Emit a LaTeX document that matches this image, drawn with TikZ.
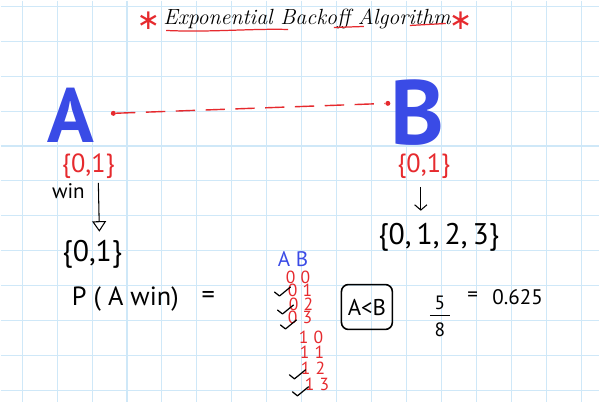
\documentclass[tikz,border=0pt]{standalone}
\usepackage{fontspec}
\setsansfont{PT Sans}
\newfontfamily\symfont{DejaVu Sans}
\usetikzlibrary{arrows.meta,positioning,calc}
\definecolor{gridBlue}{HTML}{CFE8F8}
\definecolor{penBlue}{HTML}{3A4BE6}
\definecolor{penRed}{HTML}{E62A2E}
\tikzset{
	pen/.style={inner sep=0pt, font=\sffamily},
	setred/.style={pen, text=penRed, font=\sffamily\fontsize{15}{15}\selectfont},
	setblack/.style={pen, font=\sffamily\fontsize{17}{17}\selectfont},
	bigletter/.style={pen, text=penBlue, font=\sffamily\bfseries\fontsize{#1}{#1}\selectfont},
	digit/.style={pen, text=penRed, font=\sffamily\fontsize{10}{10}\selectfont},
	star/.style={pen, text=penRed, font=\symfont\fontsize{16}{16}\selectfont},
	tick/.style={line width=0.7pt, line cap=round, line join=round},
	dot/.style={circle, fill=penRed, inner sep=0pt, minimum size=1mm}
}

\begin{document}
\begin{tikzpicture}[x=0.02cm, y=-0.02cm]
		
		% Papel cuadriculado
		\fill[white] (0,0) rectangle (600,402);
		\foreach \i in {0,...,16}
			\draw[gridBlue, line width=0.6pt] ({21.7+35*\i},0) -- ({21.7+35*\i},402);
		\foreach \j in {0,...,11}
			\draw[gridBlue, line width=0.6pt] (0,{5.7+35*\j}) -- (600,{5.7+35*\j});
		\useasboundingbox (0,0) rectangle (600,402);
		
		% Titulo
		\node[pen, font=\itshape\fontsize{12.5}{12.5}\selectfont] (title) at (307,18) {Exponential Backoff Algorithm};
		\node[star] (starL) at (148,20) {∗};
		\node[star] (starR) at (461,20) {∗};
		\draw[penRed, line width=0.7pt] (166,30) .. controls (210,32) and (250,28) .. (288,29);
		\draw[penRed, line width=0.7pt] (334,27) -- (364,26);
		\draw[penRed, line width=0.7pt] (410,25) -- (446,23);
		
		% Estaciones
		\node[bigletter=44] (A) at (70,115) {A};
		\node[bigletter=52] (B) at (418,112) {B};
		\node[dot] (dotA) at (113,113) {};
		\node[dot] (dotB) at (388,103) {};
		\draw[penRed, line width=0.8pt, dash pattern=on 11pt off 6pt] (dotA) -- (dotB);
		
		% Ventanas de espera
		\node[setred] (redA) at (88,166) {\{0,1\}};
		\node[setred] (redB) at (424,166) {\{0,1\}};
		\node[pen, font=\sffamily\fontsize{12}{12}\selectfont] (win) at (68,191) {win};
		\node[setblack] (setA) at (92,254) {\{0,1\}};
		\node[setblack] (setB) at (439,237) {\{0,\,1,\,2,\,3\}};
		\draw[line width=0.6pt, -{Triangle[open, length=6pt, width=8pt]}]
			($(redA.south)+(10,4)$) -- ($(setA.north)+(7,-8)$);
		\draw[line width=0.6pt, -{Straight Barb[length=3pt, width=7pt]}]
			($(redB.south)+(-3,8)$) -- ($(setB.north)+(-18,-12)$);
		
		% Probabilidad
		\node[pen, font=\sffamily\fontsize{15}{15}\selectfont] (prob) at (125,299) {P ( A win)};
		\node[pen, font=\sffamily\fontsize{15}{15}\selectfont] (eqA) at (208,297) {=};
		
		% Casos posibles
		\node[pen, text=penBlue, font=\sffamily\fontsize{12}{12}\selectfont] (hdr) at (293,259) {A B};
		\foreach \a/\b/\x/\y in {0/0/298/277, 0/1/300/290, 0/2/301/304, 0/3/300/317,
			1/0/311/337, 1/1/312/352, 1/2/313/368, 1/3/317/385}
			\node[digit] (r\a\b) at (\x,\y) {\a\hspace{3pt}\b};
		\foreach \r/\dx/\dy in {01/-13/2, 02/-11/6, 03/-7/8, 12/-11/7, 13/-12/7}
			\draw[tick] ($(r\r.west)+(\dx,\dy)$) -- ++(5,4) -- ++(11,-9);
		
		% Resultado
		\node[pen, draw, line width=0.9pt, rounded corners=4pt, minimum width=1.02cm,
			minimum height=0.9cm, font=\sffamily\fontsize{13}{13}\selectfont] (cmp) at (367,307) {A<B};
		\node[pen, font=\sffamily\fontsize{11}{11}\selectfont] (num) at (440,303) {5};
		\node[pen, font=\sffamily\fontsize{11}{11}\selectfont] (den) at (440,330) {8};
		\draw[line width=0.6pt] ($(num.south)+(-10,5)$) -- ($(num.south)+(10,5)$);
		\node[pen, font=\sffamily\fontsize{12}{12}\selectfont] (eqB) at (473,297) {=};
		\node[pen, font=\sffamily\fontsize{12}{12}\selectfont] (val) at (518,297) {0.625};
		
	\end{tikzpicture}
\end{document}
